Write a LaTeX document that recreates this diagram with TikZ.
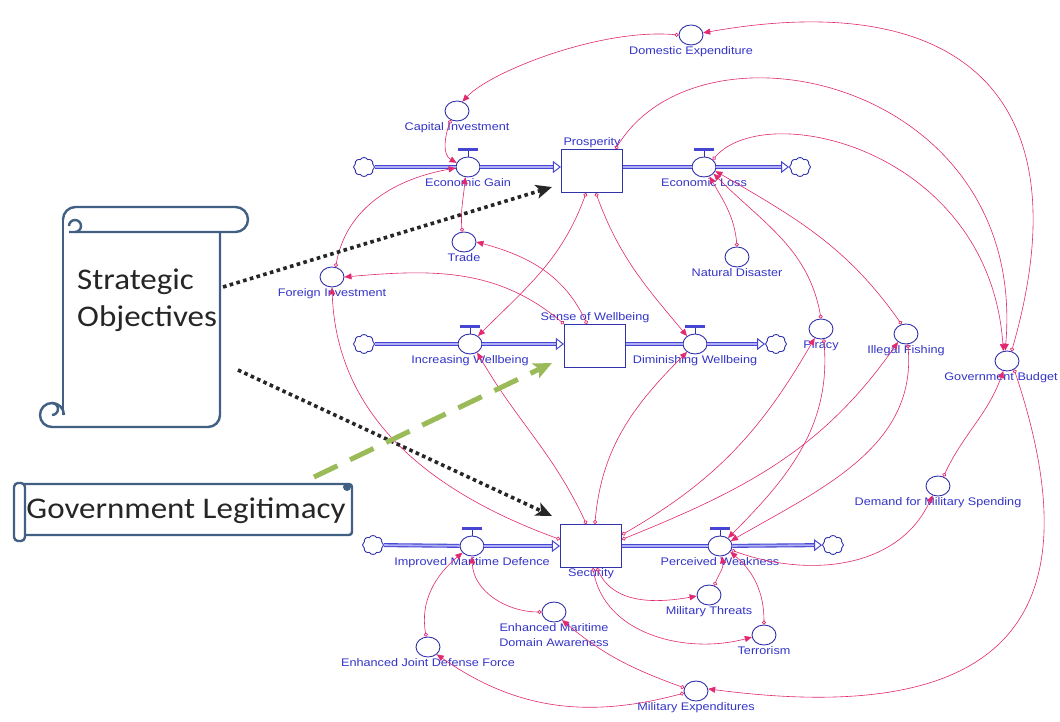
\documentclass[tikz,border=0pt]{standalone}
\usepackage{fontspec}
\setmainfont{Liberation Sans}
\newfontfamily\lblfont[FakeStretch=1.15]{Liberation Sans}
\newfontfamily\scrollfont[FakeStretch=1.1]{Carlito}
\usepackage{tikz}
\usetikzlibrary{arrows.meta,shapes.geometric,shapes.symbols,positioning,calc}

\definecolor{textblue}{RGB}{52,52,200}
\definecolor{shapeblue}{RGB}{50,50,170}
\definecolor{pipeblue}{RGB}{70,70,210}
\definecolor{pipelight}{RGB}{175,175,245}
\definecolor{linkpink}{RGB}{226,40,112}
\definecolor{scrollblue}{RGB}{66,96,132}
\definecolor{legitgreen}{RGB}{155,187,89}

\tikzset{
	lbl/.style={font=\lblfont\fontsize{11}{15}\selectfont, text=textblue, inner sep=0.5pt},
	stock/.style={rectangle, draw=shapeblue, line width=1.1pt, fill=white,
		minimum width=61pt, minimum height=43pt, inner sep=0},
	aux/.style={ellipse, draw=shapeblue, line width=0.9pt, fill=white,
		minimum width=24pt, minimum height=20pt, inner sep=0, label distance=9pt},
	valve/.style={aux, label distance=8pt},
	source/.style={cloud, cloud puffs=8, cloud puff arc=120, aspect=1.15, draw=shapeblue,
		line width=0.9pt, minimum width=21pt, minimum height=19pt, inner sep=0},
	pipe/.style={draw=pipeblue, line width=1.1pt, double=pipelight, double distance=1.8pt},
	inflow/.style={pipe, -{Triangle[open, length=8pt, width=12pt, line width=1pt]}},
	link/.style={draw=linkpink, line width=0.6pt,
		{Circle[open, length=4pt, width=4pt, line width=0.7pt]}-{Triangle[length=7pt, width=6pt]}},
	scrollline/.style={draw=scrollblue, line width=2.4pt, line join=round},
	scrolltext/.style={font=\scrollfont\fontsize{30}{37}\selectfont, text=black!85, inner sep=0},
	objarrow/.style={black!85, line width=3.6pt, dash pattern=on 3.6pt off 3.4pt,
		-{Stealth[length=16pt, width=14pt, inset=4pt]}},
	legitarrow/.style={legitgreen, line width=5pt, dash pattern=on 26pt off 14pt,
		-{Stealth[length=18pt, width=16pt, inset=4pt]}},
}

\begin{document}
\begin{tikzpicture}[x=1pt, y=1pt]
	\path[use as bounding box, fill=white] (0,0) rectangle (1060,721);

	% scrolls
	\draw[scrollline] (63,306) -- (63,501.5);
	\draw[scrollline] (220,489) -- (220,306) arc[start angle=0, end angle=-90, radius=12] -- (52,294);
	\draw[scrollline] (52,294) arc[start angle=-90, end angle=-360, radius=12];
	\draw[scrollline] (52,318) arc[start angle=90, end angle=-90, radius=6];
	\draw[scrollline] (63,501.5) arc[start angle=180, end angle=90, radius=12.5] -- (235.5,514)
		arc[start angle=90, end angle=-90, radius=12.5] -- (69,489);
	\draw[scrollline] (75,489) arc[start angle=-90, end angle=180, radius=6];
	\node[scrolltext, anchor=north west, align=left] (strat) at (77,452) {Strategic\\Objectives};

	\draw[scrollline, rounded corners=3pt] (22,186) rectangle (352,237);
	\draw[scrollline, fill=white, rounded corners=4pt] (14,180) rectangle (25,238);
	\fill[scrollblue] (347,234) circle (4);
	\node[scrolltext, anchor=base] (legit) at (186,203) {Government Legitimacy};

	% stocks
	\node[stock, label distance=9pt, label={[lbl]above:Prosperity}] (pros) at (592,550) {};
	\node[stock, label distance=7pt, label={[lbl]above:Sense of Wellbeing}] (well) at (595,375) {};
	\node[stock, label distance=7.5pt, label={[lbl]below:Security}] (secu) at (591,175) {};

	% flows
	\node[valve, label distance=3.5pt, label={[lbl]below:Economic Gain}] (egain) at (468,554) {};
	\node[valve, label distance=3.5pt, label={[lbl]below:Economic Loss}] (eloss) at (704,554) {};
	\node[valve, label={[lbl]below:Increasing Wellbeing}] (incw) at (470,377) {};
	\node[valve, label={[lbl]below:Diminishing Wellbeing}] (dimw) at (695,377) {};
	\node[valve, label={[lbl]below:Improved Maritime Defence}] (imd) at (472,175) {};
	\node[valve, label={[lbl]below:Perceived Weakness}] (pweak) at (720,175) {};

	\node[source] (c1) at (364,554) {};
	\node[source] (c2) at (800,554) {};
	\node[source] (c3) at (364,377) {};
	\node[source] (c4) at (776,377) {};
	\node[source] (c5) at (373,176) {};
	\node[source] (c6) at (833,176) {};

	% auxiliaries
	\node[aux, label={[lbl]below:Domestic Expenditure}] (domx) at (691,686) {};
	\node[aux, label={[lbl]below:Capital Investment}] (capinv) at (457,610) {};
	\node[aux, label={[lbl]below:Trade}] (trade) at (464,479) {};
	\node[aux, label={[lbl]below:Foreign Investment}] (finv) at (332,444) {};
	\node[aux, label={[lbl]below:Natural Disaster}] (natd) at (737,464) {};
	\node[aux, label={[lbl]below:Piracy}] (piracy) at (821,392) {};
	\node[aux, label={[lbl]below:Illegal Fishing}] (illf) at (906,387) {};
	\node[aux, label={[lbl, xshift=-6pt]below:Government Budget}] (gbud) at (1007,360) {};
	\node[aux, label={[lbl]below:Demand for Military Spending}] (dms) at (938,235) {};
	\node[aux, label={[lbl]below:Military Threats}] (mthr) at (709,126) {};
	\node[aux, label={[lbl]below:Terrorism}] (terr) at (764,86) {};
	\node[aux, label={[lbl, align=center]below:Enhanced Maritime\\Domain Awareness}] (emda) at (554,109) {};
	\node[aux, label={[lbl]below:Enhanced Joint Defense Force}] (ejdf) at (428,74) {};
	\node[aux, label={[lbl]below:Military Expenditures}] (milx) at (696,30) {};

	% pipes
	\draw[pipe] (c1) -- (egain);
	\draw[inflow] (egain) -- (egain -| pros.west);
	\draw[pipe] (pros.east |- eloss) -- (eloss);
	\draw[inflow] (eloss) -- (c2);
	\draw[pipe] (c3) -- (incw);
	\draw[inflow] (incw) -- (incw -| well.west);
	\draw[pipe] (well.east |- dimw) -- (dimw);
	\draw[inflow] (dimw) -- (c4);
	\draw[pipe] (c5) -- (imd);
	\draw[inflow] (imd) -- (imd -| secu.west);
	\draw[pipe] (secu.east |- pweak) -- (pweak);
	\draw[inflow] (pweak) -- (c6);
	\foreach \v in {egain,eloss,incw,dimw,imd,pweak}{
		\draw[shapeblue, line width=0.9pt] (\v.north) -- ++(0,6);
		\draw[pipeblue, line width=2.6pt] ([shift={(-10,7)}]\v.north) -- ([shift={(10,7)}]\v.north);
	}

	% links
	\draw[link] (gbud.65) .. controls +(75,260) and +(252,45) .. (domx.10);
	\draw[link] (pros.43) .. controls +(85,140) and +(23,270) .. (gbud.100);
	\draw[link] (eloss.40) .. controls +(54,62) and +(-14,201) .. (gbud.110);
	\draw[link] (domx.180) .. controls +(-78,7) and +(28,30) .. (capinv.60);
	\draw[link] (capinv.235) to[out=250, in=150] (egain.160);
	\draw[link] (trade.100) to[out=95, in=265] (egain.255);
	\draw[link] (finv.70) to[out=80, in=190] (egain.185);
	\draw[link] (well.north west) to[out=140, in=5] (finv.east);
	\draw[link] (well.110) to[out=115, in=-15] (trade.east);
	\draw[link] (pros.255) to[out=250, in=45] (incw.45);
	\draw[link] (pros.280) to[out=290, in=130] (dimw.135);
	\draw[link] (secu.102) to[out=115, in=-60] (incw.-50);
	\draw[link] (secu.80) to[out=85, in=225] (dimw.225);
	\draw[link] (secu.168) to[out=160, in=-88] (finv.south);
	\draw[link] (natd.north) to[out=95, in=-60] (eloss.-60);
	\draw[link] (piracy.north) to[out=100, in=-45] (eloss.-35);
	\draw[link] (illf.115) to[out=125, in=-30] (eloss.-20);
	\draw[link] (secu.20) to[out=30, in=240] (piracy.235);
	\draw[link] (secu.12) to[out=22, in=235] (illf.225);
	\draw[link] (piracy.-75) to[out=-85, in=45] (pweak.45);
	\draw[link] (illf.-80) to[out=-85, in=30] (pweak.25);
	\draw[link] (pweak.-20) to[out=-20, in=-115] (dms.-120);
	\draw[link] (dms.60) to[out=65, in=-110] (gbud.-110);
	\draw[link] (gbud.-50) .. controls +(77,-230) and +(318,-42) .. (milx.10);
	\draw[link] (milx.165) to[out=160, in=-40] (emda.-45);
	\draw[link] (milx.190) to[out=195, in=-35] (ejdf.-40);
	\draw[link] (emda.west) to[out=180, in=-88] (imd.south);
	\draw[link] (ejdf.100) to[out=100, in=220] (imd.215);
	\draw[link] (secu.-75) to[out=-65, in=190] (mthr.185);
	\draw[link] (secu.-85) to[out=-80, in=195] (terr.190);
	\draw[link] (mthr.60) to[out=70, in=-80] (pweak.-80);
	\draw[link] (terr.north) to[out=90, in=-40] (pweak.-30);

	% objectives and legitimacy
	\coordinate (stratout) at (223,434);
	\coordinate (stratlow) at (238,351);
	\coordinate (legitout) at (314,244);
	\coordinate (prostip) at ([shift={(-9,6)}]pros.south west);
	\coordinate (secutip) at ([shift={(-8,8)}]secu.north west);
	\coordinate (welltip) at ([shift={(-12,5)}]well.south west);
	\draw[objarrow] (stratout) -- (prostip);
	\draw[objarrow] (stratlow) -- (secutip);
	\draw[legitarrow] (legitout) -- (welltip);
\end{tikzpicture}
\end{document}
